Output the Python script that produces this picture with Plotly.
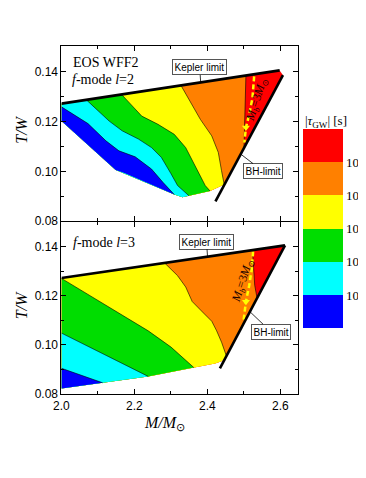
import plotly.graph_objects as go

# ---------------- data ----------------
BAND_COLORS = ["#FF0000", "#FF8000", "#FFFF00", "#00DD00", "#00FFFF", "#0000FF"]  # red .. blue
CB_TICKTEXT = ["10", "10<sup>2</sup>", "10<sup>3</sup>", "10<sup>4</sup>", "10<sup>5</sup>"]

# ---- upper panel: f-mode l=2 ----
KEP2_M = [2.0, 2.598]
KEP2_TW = [0.1271, 0.1404]
BH2_M = [2.422, 2.607]
BH2_TW = [0.088, 0.1385]
BOT2_M = [2.0, 2.1486, 2.1709, 2.3092, 2.3315, 2.4074, 2.446]
BOT2_TW = [0.1201, 0.1005, 0.0994, 0.0907, 0.0896, 0.0921, 0.0947]
C2_1_M = [2.0, 2.0727, 2.1218, 2.1575, 2.2021, 2.2468, 2.278, 2.3092]
C2_1_TW = [0.1258, 0.1191, 0.1122, 0.1082, 0.1058, 0.1009, 0.0956, 0.0907]
C2_2_M = [2.0683, 2.0951, 2.1308, 2.1665, 2.2111, 2.2468, 2.2736, 2.3003, 2.3182, 2.3494]
C2_2_TW = [0.1286, 0.1248, 0.1201, 0.1162, 0.1129, 0.1095, 0.1056, 0.0990, 0.0943, 0.0902]
C2_3_M = [2.1646, 2.1932, 2.22, 2.2646, 2.3092, 2.3404, 2.3583, 2.3761, 2.3940, 2.4074]
C2_3_TW = [0.1308, 0.1261, 0.1221, 0.1188, 0.1148, 0.1095, 0.1042, 0.0990, 0.0943, 0.0921]
C2_4_M = [2.327, 2.3538, 2.3806, 2.4118, 2.4297, 2.4386, 2.446]
C2_4_TW = [0.1345, 0.1274, 0.1208, 0.1142, 0.1076, 0.1003, 0.0947]
C2_5_M = [2.5055, 2.5039, 2.502, 2.5002]
C2_5_TW = [0.1385, 0.1294, 0.1188, 0.1097]
MB2_M = [2.528, 2.5234, 2.5146, 2.5055, 2.5012]
MB2_TW = [0.138, 0.1294, 0.1228, 0.1175, 0.1115]

# ---- lower panel: f-mode l=3 ----
KEP3_M = [2.0, 2.6126]
KEP3_TW = [0.1272, 0.1404]
BH3_M = [2.4342, 2.6126]
BH3_TW = [0.0905, 0.1404]
BOT3_M = [2.0, 2.1129, 2.2378, 2.3628, 2.4208, 2.4387, 2.452]
BOT3_TW = [0.0823, 0.0846, 0.0872, 0.0908, 0.0925, 0.0934, 0.0955]
C3_1_M = [2.0, 2.1129]
C3_1_TW = [0.0905, 0.0846]
C3_2_M = [2.0, 2.2378]
C3_2_TW = [0.1048, 0.0872]
C3_3_M = [2.0, 2.0772, 2.1486, 2.2378, 2.3003, 2.3628]
C3_3_TW = [0.1270, 0.1202, 0.1136, 0.1057, 0.0991, 0.0908]
C3_4_M = [2.2825, 2.3182, 2.3405, 2.3583, 2.3896, 2.4119, 2.4253, 2.4387, 2.452]
C3_4_TW = [0.1333, 0.1281, 0.1235, 0.1176, 0.1129, 0.1096, 0.1057, 0.1011, 0.0955]
C3_5_M = [2.5234, 2.5261, 2.5296, 2.536]
C3_5_TW = [0.1385, 0.1308, 0.1242, 0.119]
MB3_M = [2.5253, 2.5216, 2.5146, 2.5055, 2.4993]
MB3_TW = [0.138, 0.1308, 0.1242, 0.1175, 0.1103]

SERIF = "Liberation Serif"
SANS = "Liberation Sans"

# the page body has an 8px margin, so the figure is 8px smaller than the window
W, H, OFF = 358, 470, 8


def PX(x):
    return (x - OFF) / W


def PY(y):
    return 1 - (y - OFF) / H


fig = go.Figure()


def band_polygon(cm, ctw, bm, btw, km, ktw):
    xs = list(cm)
    ys = list(ctw)
    end = cm[-1]
    pts = [(m, t) for m, t in zip(bm, btw) if m < end - 1e-9]
    for m, t in reversed(pts):
        xs.append(m)
        ys.append(t)
    if cm[0] > km[0] + 1e-9:
        xs.append(km[0])
        ys.append(ktw[0])
    return xs, ys


def add_panel(xa, ya, km, ktw, bhm, bhtw, bm, btw, contours, mbm, mbtw):
    dx = [km[0], km[1], bhm[1]] + list(reversed(bm))
    dy = [ktw[0], ktw[1], bhtw[1]] + list(reversed(btw))
    fig.add_trace(go.Scatter(x=dx, y=dy, fill="toself", fillcolor=BAND_COLORS[0],
                             mode="lines", line=dict(width=0), xaxis=xa, yaxis=ya,
                             showlegend=False, hoverinfo="skip"))
    for i, (cm, ctw) in enumerate(reversed(contours)):
        px, py = band_polygon(cm, ctw, bm, btw, km, ktw)
        fig.add_trace(go.Scatter(x=px, y=py, fill="toself", fillcolor=BAND_COLORS[i + 1],
                                 mode="lines", line=dict(width=0), xaxis=xa, yaxis=ya,
                                 showlegend=False, hoverinfo="skip"))
    for cm, ctw in contours:
        fig.add_trace(go.Scatter(x=cm, y=ctw, mode="lines", line=dict(color="black", width=0.6),
                                 xaxis=xa, yaxis=ya, showlegend=False, hoverinfo="skip"))
    fig.add_trace(go.Scatter(x=mbm, y=mbtw, mode="lines",
                             line=dict(color="#FFFF00", width=2.5, dash="5px,3px"),
                             xaxis=xa, yaxis=ya, showlegend=False, hoverinfo="skip"))
    fig.add_trace(go.Scatter(x=[mbm[3]], y=[mbtw[3]], mode="markers",
                             marker=dict(symbol="triangle-down", size=7, color="#FFFF00"),
                             xaxis=xa, yaxis=ya, showlegend=False, hoverinfo="skip"))
    fig.add_trace(go.Scatter(x=km, y=ktw, mode="lines", line=dict(color="black", width=2.6),
                             xaxis=xa, yaxis=ya, showlegend=False, hoverinfo="skip"))
    fig.add_trace(go.Scatter(x=bhm, y=bhtw, mode="lines", line=dict(color="black", width=2.6),
                             xaxis=xa, yaxis=ya, showlegend=False, hoverinfo="skip"))


add_panel("x2", "y2", KEP2_M, KEP2_TW, BH2_M, BH2_TW, BOT2_M, BOT2_TW,
          [(C2_1_M, C2_1_TW), (C2_2_M, C2_2_TW), (C2_3_M, C2_3_TW), (C2_4_M, C2_4_TW), (C2_5_M, C2_5_TW)],
          MB2_M, MB2_TW)
add_panel("x", "y", KEP3_M, KEP3_TW, BH3_M, BH3_TW, BOT3_M, BOT3_TW,
          [(C3_1_M, C3_1_TW), (C3_2_M, C3_2_TW), (C3_3_M, C3_3_TW), (C3_4_M, C3_4_TW), (C3_5_M, C3_5_TW)],
          MB3_M, MB3_TW)

# colour bar (dummy heatmap outside the visible range)
cs = []
for k, c in enumerate(reversed(BAND_COLORS)):
    cs.append([k / 6, c])
    cs.append([(k + 1) / 6, c])
fig.add_trace(go.Heatmap(z=[[0, 6]], x=[10, 11], y=[10], zmin=0, zmax=6, colorscale=cs,
                         xaxis="x", yaxis="y", hoverinfo="skip",
                         colorbar=dict(x=PX(302), xanchor="left", y=PY(232), yanchor="middle",
                                       len=199, lenmode="pixels", thickness=40, thicknessmode="pixels",
                                       outlinewidth=0, xpad=0, ypad=0, ticks="", ticklen=0,
                                       tickvals=[5, 4, 3, 2, 1], ticktext=CB_TICKTEXT,
                                       tickfont=dict(family=SERIF, size=13, color="black"))))

axis_common = dict(showline=True, linecolor="black", linewidth=1, mirror="ticks", ticks="inside",
                   ticklen=5, tickcolor="black", showgrid=False, zeroline=False,
                   tickfont=dict(family=SANS, size=12, color="black"))
XDOM = [PX(54.5), PX(296)]
fig.update_layout(
    width=W, height=H, margin=dict(l=0, r=0, t=0, b=0),
    paper_bgcolor="white", plot_bgcolor="white",
    xaxis=dict(domain=XDOM, range=[2.0, 2.647], dtick=0.2, tick0=2.0, tickformat=".1f",
               minor=dict(ticks="inside", ticklen=3, dtick=0.1, tickcolor="black"), anchor="y", **axis_common),
    yaxis=dict(domain=[PY(400), PY(225)], range=[0.08, 0.15], dtick=0.02, tick0=0.08,
               tickformat=".2f", minor=dict(ticks="inside", ticklen=3, dtick=0.01, tickcolor="black"),
               anchor="x", **axis_common),
    xaxis2=dict(domain=XDOM, range=[2.0, 2.647], dtick=0.2, tick0=2.0, showticklabels=False,
                minor=dict(ticks="inside", ticklen=3, dtick=0.1, tickcolor="black"), anchor="y2",
                matches="x", **axis_common),
    yaxis2=dict(domain=[PY(224.5), PY(47)], range=[0.08, 0.15], dtick=0.02, tick0=0.08,
                tickformat=".2f", minor=dict(ticks="inside", ticklen=3, dtick=0.01, tickcolor="black"),
                anchor="x2", **axis_common),
)

ann = []
txt = dict(xref="paper", yref="paper", showarrow=False, yanchor="middle")
ann.append(dict(text="EOS WFF2", x=PX(64), y=PY(63), xanchor="left",
                font=dict(family=SERIF, size=14, color="black"), **txt))
ann.append(dict(text="<i>f</i>-mode <i>l</i>=2", x=PX(63), y=PY(80.5), xanchor="left",
                font=dict(family=SERIF, size=14, color="black"), **txt))
ann.append(dict(text="<i>f</i>-mode <i>l</i>=3", x=PX(64), y=PY(246.5), xanchor="left",
                font=dict(family=SERIF, size=14, color="black"), **txt))
box = dict(showarrow=True, arrowhead=0, arrowwidth=0.8, arrowcolor="black", bgcolor="white",
           bordercolor="#555555", borderwidth=1, borderpad=1.5, font=dict(family=SANS, size=10, color="black"))
ann.append(dict(text="Kepler limit", x=2.3815, y=0.1356, xref="x2", yref="y2", ax=-1, ay=-15, **box))
ann.append(dict(text="BH-limit", x=2.4912, y=0.1069, xref="x2", yref="y2", ax=22, ay=17, **box))
ann.append(dict(text="Kepler limit", x=2.4003, y=0.1358, xref="x", yref="y", ax=-1, ay=-15, **box))
ann.append(dict(text="BH-limit", x=2.5164, y=0.1135, xref="x", yref="y", ax=21, ay=20, **box))
mb_txt = "<i>M<sub>b</sub></i>=3<i>M</i><sub>⊙</sub>"
ann.append(dict(text=mb_txt, x=2.535, y=0.1287, xref="x2", yref="y2", textangle=-72, showarrow=False,
                xanchor="center", yanchor="middle", font=dict(family=SERIF, size=12, color="#1a0000")))
ann.append(dict(text=mb_txt, x=2.4966, y=0.1261, xref="x", yref="y", textangle=-72, showarrow=False,
                xanchor="center", yanchor="middle", font=dict(family=SERIF, size=12, color="#1a0000")))
for yy in (131.7, 310):
    ann.append(dict(text="<i>T/W</i>", x=PX(14), y=PY(yy), xanchor="center", textangle=-90,
                    font=dict(family=SERIF, size=16, color="black"), **txt))
ann.append(dict(text="<i>M/M</i><sub>⊙</sub>", x=PX(160), y=PY(430), xanchor="center",
                font=dict(family=SERIF, size=16, color="black"), **txt))
ann.append(dict(text="|<i>τ</i><sub>GW</sub>| [s]", x=PX(325), y=PY(123), xanchor="center",
                font=dict(family=SERIF, size=13, color="black"), **txt))
fig.update_layout(annotations=ann)

fig.write_html("out.html")
